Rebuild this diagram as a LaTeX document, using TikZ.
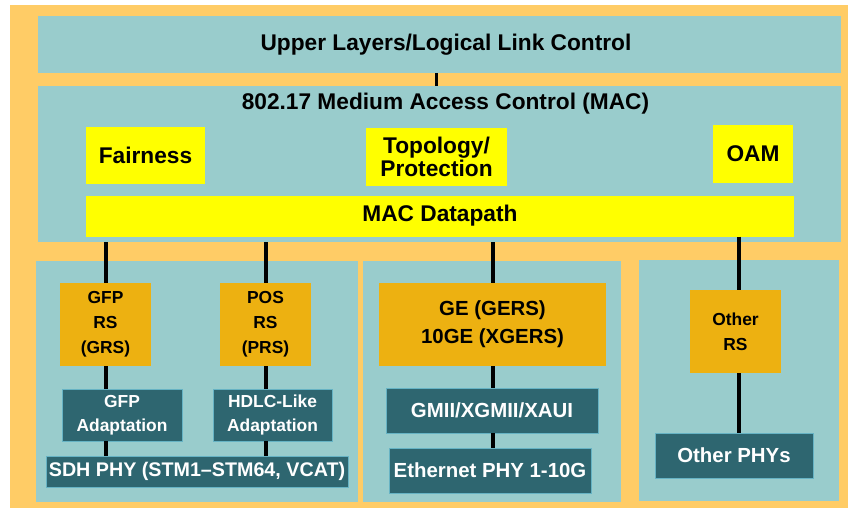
\documentclass[tikz,border=0pt]{standalone}
\usepackage{fontspec}
\setmainfont{Liberation Sans}
\definecolor{bgorange}{HTML}{FFCC66}
\definecolor{teal}{HTML}{99CCCC}
\definecolor{yel}{HTML}{FFFF00}
\definecolor{gold}{HTML}{EDB111}
\definecolor{darkteal}{HTML}{2E6670}
\definecolor{edgeteal}{HTML}{66B3C4}
\begin{document}
\begin{tikzpicture}[x=1pt,y=-1pt,
  box/.style={inner sep=0pt, outer sep=0pt, align=center, font=\bfseries},
  panel/.style={box, fill=teal},
  yelbox/.style={box, fill=yel, text=black},
  goldbox/.style={box, fill=gold, text=black},
  darkbox/.style={box, fill=darkteal, draw=edgeteal, line width=1pt, text=white},
  big/.style={font=\bfseries\fontsize{22.7}{23.5}\selectfont},
  mid/.style={font=\bfseries\fontsize{20.4}{22}\selectfont},
  small/.style={font=\bfseries\fontsize{17.4}{25}\selectfont},
  wire/.style={line width=4pt, black},
  thinwire/.style={line width=3pt, black}]
\useasboundingbox (0,0) rectangle (848,508);
\fill[bgorange] (10,5) rectangle (848,508);
% top layers
\node[panel, minimum width=803pt, minimum height=57pt] (upper) at (439.5,44.5) {};
\node[box, big] (uppertext) at (446,45) {Upper Layers/Logical Link Control};
\node[panel, minimum width=803pt, minimum height=156pt] (mac) at (439.5,164) {};
\node[box, big] (mactitle) at (445.5,104) {802.17 Medium Access Control (MAC)};
\node[yelbox, minimum width=119pt, minimum height=57pt, big] (fair) at (145.5,155.5) {Fairness};
\node[yelbox, minimum width=141pt, minimum height=58pt, big] (topo) at (436.5,157) {Topology/\\Protection};
\node[yelbox, minimum width=80pt, minimum height=58pt, big] (oam) at (753,154) {OAM};
\node[yelbox, minimum width=708pt, minimum height=41pt, big] (dp) at (440,216) {MAC Datapath};
% panels
\node[panel, minimum width=322pt, minimum height=241pt] (pleft) at (197,381.5) {};
\node[panel, minimum width=258pt, minimum height=241pt] (pmid) at (492,381.5) {};
\node[panel, minimum width=200pt, minimum height=241pt] (pright) at (739,380.5) {};
% left panel
\node[goldbox, minimum width=91pt, minimum height=83pt, small] (grs) at (105.5,324.5) {GFP\\RS\\(GRS)};
\node[goldbox, minimum width=91pt, minimum height=83pt, small] (prs) at (265.5,324.5) {POS\\RS\\(PRS)};
\node[darkbox, minimum width=120pt, minimum height=52pt, font=\bfseries\fontsize{17.4}{24}\selectfont] (gfpa) at (122,415) {GFP\\Adaptation};
\node[darkbox, minimum width=119pt, minimum height=52pt, font=\bfseries\fontsize{17.4}{24}\selectfont] (hdlc) at (272.5,415) {HDLC-Like\\Adaptation};
\node[darkbox, minimum width=302pt, minimum height=31pt, font=\bfseries\fontsize{19.7}{22}\selectfont] (sdh) at (197,471.5) {SDH PHY (STM1–STM64, VCAT)};
% middle panel
\node[goldbox, minimum width=227pt, minimum height=83pt, font=\bfseries\fontsize{20.4}{28}\selectfont] (ge) at (492.5,324.5) {GE (GERS)\\10GE (XGERS)};
\node[darkbox, minimum width=212pt, minimum height=45pt, mid] (gmii) at (492,410.5) {GMII/XGMII/XAUI};
\node[darkbox, minimum width=202pt, minimum height=45pt, mid] (eth) at (490,470.5) {Ethernet PHY 1-10G};
% right panel
\node[goldbox, minimum width=91pt, minimum height=83pt, small] (ors) at (735.5,331.5) {Other\\RS};
\node[darkbox, minimum width=158pt, minimum height=45pt, mid] (ophy) at (734,455.5) {Other PHYs};
% connectors
\draw[thinwire] (upper.south -| 436,0) -- (mac.north -| 436,0);
\draw[wire] (mac.south -| grs.north) -- (grs.north);
\draw[wire] (grs.south) -- (grs.south |- gfpa.north);
\draw[wire] (grs.south |- gfpa.south) -- (grs.south |- sdh.north);
\draw[wire] (mac.south -| prs.north) -- (prs.north);
\draw[wire] (prs.south) -- (prs.south |- hdlc.north);
\draw[wire] (prs.south |- hdlc.south) -- (prs.south |- sdh.north);
\draw[wire] (mac.south -| ge.north) -- (ge.north);
\draw[wire] (ge.south) -- (ge.south |- gmii.north);
\draw[wire] (ge.south |- gmii.south) -- (ge.south |- eth.north);
\draw[wire] (dp.south -| 739,0) -- (ors.north -| 739,0);
\draw[wire] (ors.south -| 739,0) -- (ophy.north -| 739,0);
\end{tikzpicture}
\end{document}
